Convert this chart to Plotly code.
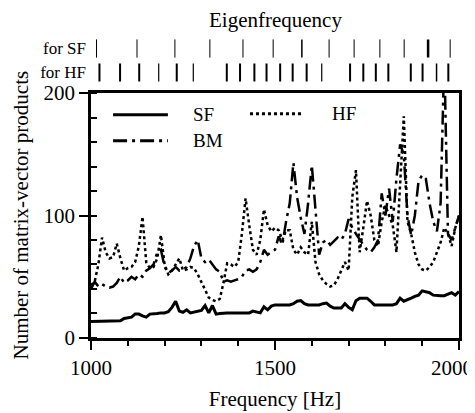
import plotly.graph_objects as go

# ---------------- data ----------------
freq = list(range(1000, 2001, 10))

sf_counts = [
    13.5, 13.5, 13.5, 13.5, 13.5, 13.5, 13.5, 13.5, 14, 16,
    16.5, 17, 19.5, 19.5, 18, 17, 19.5, 19.5, 20, 20.5,
    20.5, 21.5, 25, 30, 22, 21, 23, 20.5, 21, 22,
    22.5, 26.5, 20.5, 26.5, 19.5, 20, 20.5, 20.5, 20.5, 20.5,
    20.5, 20.5, 20.5, 20.5, 22, 21, 20.5, 25.5, 23, 26,
    27, 27, 27, 27, 27, 28, 30, 30.5, 28, 27,
    27, 27, 27, 28, 28.5, 26, 24.5, 24.5, 24.5, 28,
    25, 23, 30.5, 32.5, 32.5, 32.5, 30, 27, 27, 27,
    27, 27, 27, 28, 32.5, 30, 31, 32.5, 34, 35,
    38.5, 37.5, 37, 35, 34.5, 34.5, 34.5, 36, 37, 35,
    38,
]

hf_counts = [
    43, 46, 60, 82, 70, 65, 66, 77, 65, 55,
    57, 58, 62, 75, 99, 62, 57, 58, 65, 84,
    60, 52, 55, 60, 65, 55, 56, 58, 57, 52,
    46, 39, 33, 31, 30, 32, 45, 61, 60, 58,
    62, 85, 114, 92, 72, 68, 80, 105, 92, 87,
    90, 88, 80, 88, 88, 72, 68, 74, 70, 68,
    95, 62, 52, 47, 44, 42, 43, 48, 55, 62,
    55, 115, 137, 70, 90, 112, 100, 80, 75, 95,
    108, 100, 92, 70, 125, 181, 95, 85, 70, 60,
    56, 55, 58, 62, 70, 78, 90, 85, 75, 90,
    100,
]

bm_counts = [
    40, 46, 42, 44, 42, 41, 42, 45, 50, 45,
    47, 50, 48, 52, 50, 55, 57, 60, 70, 72,
    58, 53, 55, 58, 55, 56, 58, 65, 75, 80,
    65, 62, 64, 60, 56, 54, 46, 47, 46, 47,
    48, 50, 55, 56, 54, 56, 62, 72, 68, 70,
    72, 83, 76, 95, 110, 143, 115, 98, 85, 110,
    141, 105, 68, 78, 80, 76, 79, 82, 80, 85,
    97, 90, 85, 80, 76, 72, 70, 74, 80, 118,
    100, 122, 95, 130, 158, 150, 100, 84, 100, 128,
    133, 130, 110, 95, 87, 110, 230, 85, 80, 90,
    100,
]

x_tickvals = [1000, 1500, 2000]
x_ticktext = ["1000", "1500", "2000"]
y_tickvals = [0, 100, 200]

sf_eigen = [1015, 1125, 1228, 1323, 1413, 1495, 1573, 1647, 1715, 1785, 1851, 1916, 1976]
sf_eigen_weight = [1, 1, 1, 1, 1, 1, 1.5, 1, 1, 1, 1, 2.5, 1]
hf_eigen = [1023, 1079, 1131, 1184, 1233, 1278, 1369, 1405, 1444, 1477, 1514,
            1548, 1586, 1627, 1704, 1740, 1774, 1808, 1869, 1901, 1939, 1971]
hf_eigen_weight = [2, 2, 2, 1.2, 2, 1.2, 2, 2, 2, 2, 2,
                   2, 2, 1.2, 2, 2, 2, 2, 2, 2, 1.5, 2]

row_labels = ["for HF", "for SF"]
series_names = ["SF", "HF", "BM"]

FONT = "Liberation Serif"

# ---------------- figure ----------------
fig = go.Figure()

fig.add_trace(go.Scatter(x=freq, y=sf_counts, mode="lines", name=series_names[0],
                         line=dict(color="black", width=3), showlegend=False))
fig.add_trace(go.Scatter(x=freq, y=hf_counts, mode="lines", name=series_names[1],
                         line=dict(color="black", width=2.5, dash="3px,3px"), showlegend=False))
fig.add_trace(go.Scatter(x=freq, y=bm_counts, mode="lines", name=series_names[2],
                         line=dict(color="black", width=2.5, dash="14px,5px,3px,5px"),
                         showlegend=False))

fig.add_trace(go.Scatter(x=sf_eigen, y=[row_labels[1]] * len(sf_eigen), mode="markers",
                         yaxis="y2", showlegend=False,
                         marker=dict(symbol="line-ns", size=13, color="black",
                                     line=dict(color="black", width=sf_eigen_weight))))
fig.add_trace(go.Scatter(x=hf_eigen, y=[row_labels[0]] * len(hf_eigen), mode="markers",
                         yaxis="y2", showlegend=False,
                         marker=dict(symbol="line-ns", size=13, color="black",
                                     line=dict(color="black", width=hf_eigen_weight))))

# manual legend
legend_items = [
    (0.060, 0.209, 0.911, 0.272, series_names[0], dict(color="black", width=3)),
    (0.432, 0.573, 0.915, 0.649, series_names[1], dict(color="black", width=3, dash="3px,3px")),
    (0.060, 0.209, 0.805, 0.272, series_names[2], dict(color="black", width=3, dash="14px,5px,3px,5px")),
]
shapes = []
annotations = []
for x0, x1, yy, xt, label, ln in legend_items:
    shapes.append(dict(type="line", xref="x domain", yref="y domain",
                       x0=x0, x1=x1, y0=yy, y1=yy, line=ln))
    annotations.append(dict(xref="x domain", yref="y domain", x=xt, y=yy,
                            text=label, showarrow=False, xanchor="left", yanchor="middle",
                            font=dict(family=FONT, size=19, color="black")))

annotations.append(dict(xref="paper", yref="paper", x=0.5, y=0.9636, text="Eigenfrequency",
                        showarrow=False, xanchor="center", yanchor="middle",
                        font=dict(family=FONT, size=21, color="black")))
annotations.append(dict(xref="paper", yref="paper", x=-0.1929, y=0.3712,
                        text="Number of matrix-vector products", textangle=-90,
                        showarrow=False, xanchor="center", yanchor="middle",
                        font=dict(family=FONT, size=21, color="black")))
# last x tick label, nudged inward so it stays inside the picture
annotations.append(dict(xref="x", yref="paper", x=x_tickvals[-1], y=0, text=x_ticktext[-1],
                        showarrow=False, xanchor="center", yanchor="middle",
                        xshift=-7, yshift=-30,
                        font=dict(family=FONT, size=21, color="black")))

fig.update_layout(
    width=475, height=405,
    margin=dict(l=83, r=24, t=0, b=75, autoexpand=False),
    paper_bgcolor="white", plot_bgcolor="white",
    font=dict(family=FONT, size=21, color="black"),
    showlegend=False,
    shapes=shapes,
    annotations=annotations,
    xaxis=dict(
        range=[1000, 2000], tickvals=x_tickvals,
        ticktext=x_ticktext[:-1] + [""],
        ticks="outside", ticklen=9, tickwidth=2, tickcolor="black",
        showline=True, linewidth=2.5, linecolor="black", mirror=True,
        showgrid=False, zeroline=False, anchor="y", automargin=False,
        minor=dict(dtick=100, tick0=1000, ticks="outside", ticklen=5, tickwidth=1.5,
                   tickcolor="black", showgrid=False),
        title=dict(text="Frequency [Hz]", font=dict(size=21), standoff=13),
        tickfont=dict(size=21),
    ),
    yaxis=dict(
        domain=[0, 0.7424], range=[0, 200], tickvals=y_tickvals,
        ticks="outside", ticklen=9, tickwidth=2, tickcolor="black",
        showline=True, linewidth=2.5, linecolor="black", mirror=True,
        showgrid=False, zeroline=False, anchor="x", automargin=False,
        minor=dict(dtick=20, tick0=0, ticks="inside", ticklen=6, tickwidth=1.5,
                   tickcolor="black", showgrid=False),
        tickfont=dict(size=21),
    ),
    yaxis2=dict(
        domain=[0.7682, 0.9136], anchor="x", type="category",
        categoryorder="array", categoryarray=row_labels, range=[-0.5, 1.5],
        showline=False, showgrid=False, zeroline=False, ticks="",
        ticklabelstandoff=4, automargin=False,
        tickfont=dict(size=17), fixedrange=True,
    ),
)

fig.write_html("out.html")
